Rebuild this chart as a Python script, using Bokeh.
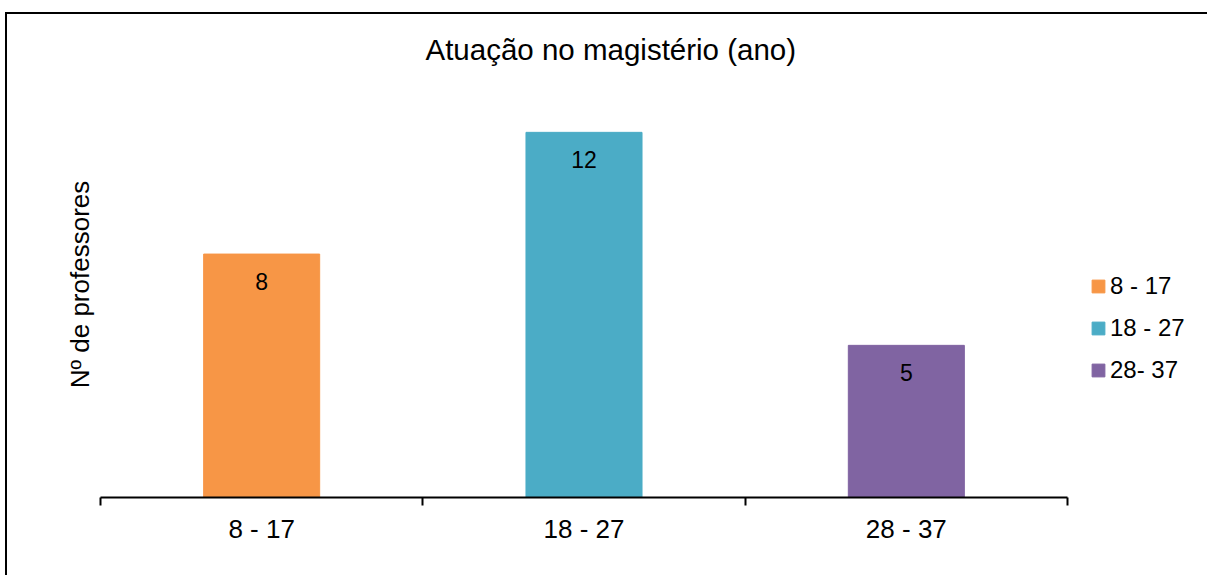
from bokeh.plotting import figure
from bokeh.models import FixedTicker, Legend, LegendItem, Range1d, ColumnDataSource
from bokeh.embed import file_html
from bokeh.resources import INLINE
from bokeh.core.properties import value

categories = ["8 - 17", "18 - 27", "28 - 37"]
legend_labels = ["8 - 17", "18 - 27", "28- 37"]
counts = [8, 12, 5]
colors = ["#F79646", "#4BACC6", "#8064A2"]
title_text = "Atuação no magistério (ano)"
y_label = "Nº de professores"

FONT = "Liberation Sans"

n = len(categories)
xs = [i + 0.5 for i in range(n)]
source = ColumnDataSource(dict(x=xs, top=counts, color=colors, cat=categories,
                               lbl=[str(c) for c in counts]))

W, H = 1202, 563
BL, BB, BT = 93, 80, 57
axis_px = 967                      # pixel length of the category axis
frame_px = W - BL                   # frame extends to the right edge (room for legend)
x_end = n * frame_px / axis_px

p = figure(width=W, height=H, output_backend="svg", toolbar_location=None,
           x_range=Range1d(0, x_end), y_range=Range1d(0, 14),
           min_border_left=BL, min_border_right=0, min_border_top=BT, min_border_bottom=BB,
           title=title_text)
p.styles = {"margin-left": "5px", "margin-top": "12px",
            "border-left": "2px solid black", "border-top": "2px solid black"}

p.title.align = "left"
p.title.offset = 325
p.title.standoff = 12
p.title.text_font = FONT
p.title.text_font_size = "29.5px"
p.title.text_font_style = "normal"
p.title.text_color = "black"

r = p.vbar(x="x", top="top", bottom=0, width=0.36, color="color", source=source)

p.text(x="x", y="top", text="lbl", source=source, text_align="center",
       text_baseline="middle", y_offset=27, text_font=value(FONT),
       text_font_size="23px", text_color="black")

legend = Legend(items=[LegendItem(label=legend_labels[i], renderers=[r], index=i)
                       for i in range(len(legend_labels))],
                location=(axis_px + 23, 106), orientation="vertical",
                border_line_color=None, background_fill_alpha=0,
                glyph_width=16, glyph_height=16, label_height=42, spacing=0,
                padding=0, margin=0, label_standoff=4,
                label_text_font=FONT, label_text_font_size="24px",
                label_text_baseline="middle", label_text_color="black")
p.add_layout(legend)

xa = p.xaxis[0]
xa.bounds = (0, n)
xa.ticker = FixedTicker(ticks=xs, minor_ticks=list(range(n + 1)))
xa.major_label_overrides = {x: c for x, c in zip(xs, categories)}
xa.major_tick_in = 0
xa.major_tick_out = 0
xa.minor_tick_in = 0
xa.minor_tick_out = 8
xa.minor_tick_line_width = 2
xa.minor_tick_line_color = "black"
xa.axis_line_width = 2
xa.axis_line_color = "black"
xa.major_label_text_font = FONT
xa.major_label_text_font_size = "26px"
xa.major_label_text_color = "black"
xa.major_label_standoff = 8

ya = p.yaxis[0]
ya.ticker = FixedTicker(ticks=[])
ya.major_tick_in = 0
ya.major_tick_out = 0
ya.minor_tick_in = 0
ya.minor_tick_out = 0
ya.axis_line_color = None
ya.axis_label = y_label
ya.axis_label_text_font = FONT
ya.axis_label_text_font_size = "26px"
ya.axis_label_text_font_style = "normal"
ya.axis_label_text_color = "black"
ya.axis_label_standoff = 6

p.xgrid.visible = False
p.ygrid.visible = False
p.outline_line_color = None

open("out.html", "w").write(file_html(p, INLINE))
